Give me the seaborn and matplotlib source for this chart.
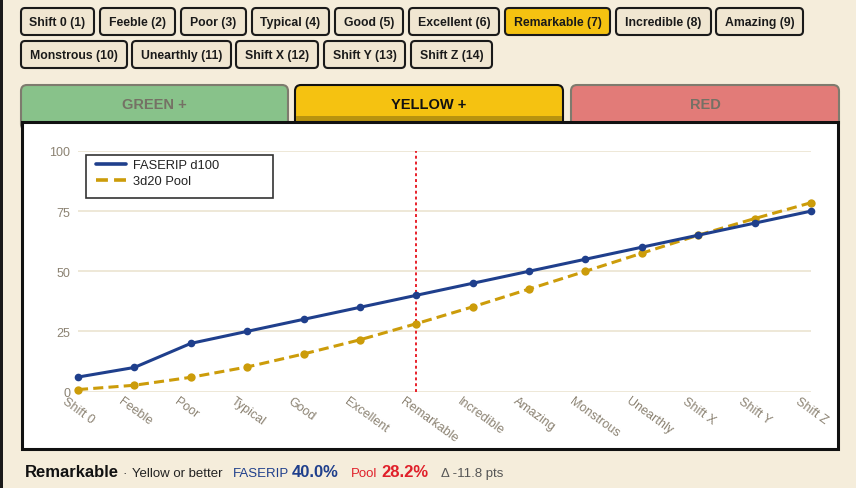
import matplotlib
matplotlib.use("Agg")
import matplotlib.pyplot as plt
import matplotlib.transforms as mtransforms
from matplotlib.patches import FancyBboxPatch, Rectangle
import seaborn as sns
import pandas as pd

# ---------------- data ----------------
ranks = ["Shift 0", "Feeble", "Poor", "Typical", "Good", "Excellent", "Remarkable",
         "Incredible", "Amazing", "Monstrous", "Unearthly", "Shift X", "Shift Y", "Shift Z"]
faserip = [6, 10, 20, 25, 30, 35, 40, 45, 50, 55, 60, 65, 70, 75]
pool = [0.8, 2.6, 5.9, 10.2, 15.6, 21.5, 28.2, 35.2, 42.6, 50, 57.5, 65, 71.9, 78.5]
series_names = ["FASERIP d100", "3d20 Pool"]
button_labels_row1 = ["Shift 0 (1)", "Feeble (2)", "Poor (3)", "Typical (4)", "Good (5)",
                      "Excellent (6)", "Remarkable (7)", "Incredible (8)", "Amazing (9)"]
button_labels_row2 = ["Monstrous (10)", "Unearthly (11)", "Shift X (12)", "Shift Y (13)", "Shift Z (14)"]
tab_labels = ["GREEN +", "YELLOW +", "RED"]
selected_rank = "Remarkable"
yticks = [0, 25, 50, 75, 100]

# ---------------- style ----------------
sns.set_theme(style="white")
plt.rcParams['font.family'] = ['Liberation Sans', 'DejaVu Sans']

BG = "#F5EDDB"
BTN = "#F0E6D1"
SEL = "#F5C211"
NAVY = "#1F3F8C"
GOLD = "#CC9C0A"
RED = "#E8202A"
GRID = "#EAE1CD"
TICK = "#8B8272"

W, H = 856, 489
fig = plt.figure(figsize=(W / 100, H / 100), dpi=100, facecolor=BG)

# overlay for page decoration (pixel coordinates)
bg = fig.add_axes([0, 0, 1, 1], zorder=0)
bg.set_xlim(0, W)
bg.set_ylim(H, 0)
bg.axis("off")

bg.add_patch(Rectangle((0, 0), 3, H, color="#1A1A1A", lw=0))

def button(x0, x1, y0, y1, label, selected=False):
    bg.add_patch(FancyBboxPatch((x0, y0), x1 - x0, y1 - y0,
                                boxstyle="round,pad=0,rounding_size=4",
                                fc=SEL if selected else BTN, ec="#1A1A1A", lw=1.5))
    bg.text((x0 + x1) / 2, (y0 + y1) / 2 + 0.5, label, ha="center", va="center",
            fontsize=8.8, fontweight="bold", color="#1A1A1A")

row1_x = [(21, 94), (100, 175), (181, 246), (252, 329), (335, 403), (409, 499),
          (505, 610), (616, 711), (716, 803)]
row2_x = [(21, 127), (132, 231), (236, 318), (324, 405), (411, 492)]
for (x0, x1), lab in zip(row1_x, button_labels_row1):
    button(x0, x1, 9, 36, lab, selected=lab.startswith(selected_rank))
for (x0, x1), lab in zip(row2_x, button_labels_row2):
    button(x0, x1, 42, 69, lab)

# tabs
tabs_x = [(21, 288), (295, 563), (571, 839)]
tab_fc = ["#88C28A", SEL, "#E27B78"]
tab_ec = ["#7E7B6E", "#111111", "#7E7B6E"]
tab_tc = ["#757165", "#111111", "#757165"]
for (x0, x1), lab, fc, ec, tc in zip(tabs_x, tab_labels, tab_fc, tab_ec, tab_tc):
    bg.add_patch(FancyBboxPatch((x0, 86), x1 - x0, 45,
                                boxstyle="round,pad=0,rounding_size=6",
                                fc=fc, ec=ec, lw=1.5))
    bg.text((x0 + x1) / 2, 105, lab, ha="center", va="center", fontsize=10.5,
            fontweight="bold", color=tc)
bg.add_patch(Rectangle((296, 117), 266, 5, color="#B8930F", lw=0))

# chart panel
bg.add_patch(Rectangle((22, 123), 816, 327, fc="white", ec="#111111", lw=2.2))

# legend frame (drawn manually)
bg.add_patch(Rectangle((86, 156), 187, 43, fc="white", ec="#333333", lw=1.2))

# ---------------- chart ----------------
x0p, x1p, ytop, ybot = 78, 811, 152, 392.5
ax = fig.add_axes([x0p / W, 1 - ybot / H, (x1p - x0p) / W, (ybot - ytop) / H], zorder=2)
ax.set_facecolor("none")

df = pd.DataFrame({
    "idx": list(range(len(ranks))) * 2,
    "value": faserip + pool,
    "series": [series_names[0]] * len(ranks) + [series_names[1]] * len(ranks),
})

sns.lineplot(data=df[df.series == series_names[0]], x="idx", y="value", ax=ax,
             color=NAVY, lw=2.2, marker="o", markersize=5.5, markeredgewidth=0,
             label=series_names[0], clip_on=False, zorder=4)
sns.lineplot(data=df[df.series == series_names[1]], x="idx", y="value", ax=ax,
             color=GOLD, lw=2.2, marker="o", markersize=6, markeredgewidth=0,
             label=series_names[1], clip_on=False, zorder=3)
for ln in ax.get_lines():
    if ln.get_label() == series_names[1]:
        ln.set_dashes((3.3, 1.7))

sel_idx = ranks.index(selected_rank)
ax.axvline(sel_idx, color=RED, lw=1.4, ls=(0, (1.5, 1.5)), zorder=2)

ax.set_xlim(0, len(ranks) - 1)
ax.set_ylim(0, 100)
ax.set_yticks(yticks)
ax.set_yticklabels([str(v) for v in yticks])
ax.set_xticks(range(len(ranks)))
ax.set_xticklabels(ranks)
for s in ax.spines.values():
    s.set_visible(False)
ax.grid(axis="y", color=GRID, lw=1.1)
ax.grid(axis="x", visible=False)
ax.tick_params(axis="both", length=0, colors=TICK, labelsize=9)
ax.tick_params(axis="y", pad=5.5)
ax.set_xlabel("")
ax.set_ylabel("")

offset = mtransforms.ScaledTranslation(-11 / 100, 2 / 100, fig.dpi_scale_trans)
for lab in ax.get_xticklabels():
    lab.set_rotation(-36)
    lab.set_ha("left")
    lab.set_va("top")
    lab.set_rotation_mode("anchor")
    lab.set_transform(lab.get_transform() + offset)

leg = ax.legend(loc="upper left", bbox_to_anchor=(96 / W, 1 - 160 / H),
                bbox_transform=fig.transFigure, frameon=False, fontsize=9.3,
                handlelength=2.3, handletextpad=0.6, labelspacing=0.32,
                borderaxespad=0, borderpad=0)
for t in leg.get_texts():
    t.set_color("#222222")
for h in leg.get_lines():
    h.set_marker("")
    h.set_linewidth(2.6)

# ---------------- status line ----------------
yb = 477
bg.text(25, yb, "Remarkable", fontsize=12, fontweight="bold", color="#111111", va="baseline")
bg.text(122, yb, "·", fontsize=9.5, color="#222222", va="baseline")
bg.text(132, yb, "Yellow or better", fontsize=9.5, color="#222222", va="baseline")
bg.text(233, yb, "FASERIP", fontsize=9.5, color=NAVY, va="baseline")
bg.text(292, yb, "40.0%", fontsize=12, fontweight="bold", color=NAVY, va="baseline")
bg.text(351, yb, "Pool", fontsize=9.5, color="#E0202A", va="baseline")
bg.text(381, yb, "28.2%", fontsize=12, fontweight="bold", color="#E0202A", va="baseline")
bg.text(441, yb, "Δ -11.8 pts", fontsize=9.5, color="#555555", va="baseline")

fig.savefig("out.png", dpi=100, facecolor=BG)
